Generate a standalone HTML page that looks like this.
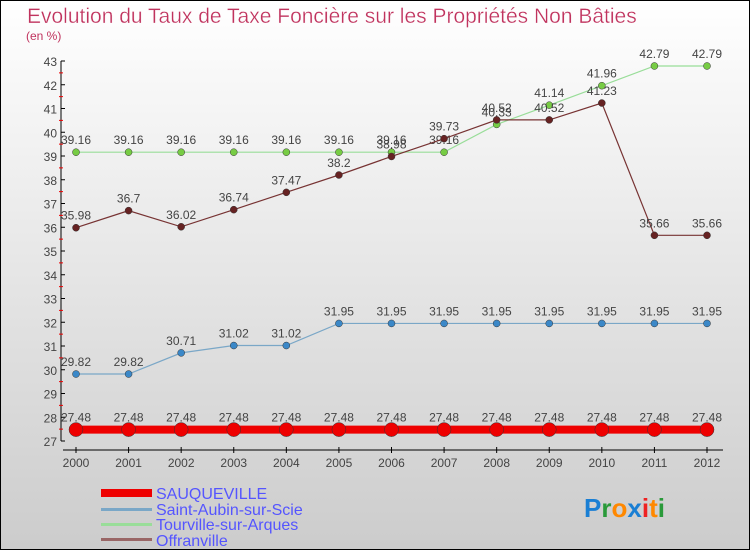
<!DOCTYPE html>
<html><head><meta charset="utf-8"><style>
body{margin:0;}
#c{position:relative;width:748px;height:548px;border:1px solid #000;background:linear-gradient(#fff,#ccc);font-family:"Liberation Sans",sans-serif;overflow:hidden}
svg text{font-family:"Liberation Sans",sans-serif}
</style></head><body>
<div id="c">
<svg width="748" height="548" id="s">
<text x="26" y="22" font-size="21" fill="#c0335e" stroke="#fff" stroke-width="0.3">Evolution du Taux de Taxe Foncière sur les Propriétés Non Bâties</text>
<text x="25" y="39" font-size="12" fill="#c0335e">(en %)</text>
<g id="axes"></g><g id="series"></g>
<g>
<rect x="100" y="488" width="51" height="8" fill="#e00"/>
<text x="155" y="498" font-size="16" fill="#55f">SAUQUEVILLE</text>
<rect x="100" y="507" width="51" height="3" fill="#7aa7c7"/>
<text x="155" y="514" font-size="16" fill="#55f">Saint-Aubin-sur-Scie</text>
<rect x="100" y="522" width="51" height="3" fill="#9d9"/>
<text x="155" y="529" font-size="16" fill="#55f">Tourville-sur-Arques</text>
<rect x="100" y="537" width="51" height="3" fill="#966"/>
<text x="155" y="545" font-size="16" fill="#55f">Offranville</text>
</g>
<text x="583" y="516" font-size="26" font-weight="bold"><tspan fill="#1a7fd4">P</tspan><tspan fill="#2a9a3a">r</tspan><tspan fill="#f80">o</tspan><tspan fill="#1a7fd4">x</tspan><tspan fill="#e22">i</tspan><tspan fill="#f80">t</tspan><tspan fill="#2a9a3a">i</tspan></text>
</svg>
</div>
<script>
const years=["2000","2001","2002","2003","2004","2005","2006","2007","2008","2009","2010","2011","2012"];
const yTicks=[27,28,29,30,31,32,33,34,35,36,37,38,39,40,41,42,43];
const sauqueville=[27.48,27.48,27.48,27.48,27.48,27.48,27.48,27.48,27.48,27.48,27.48,27.48,27.48];
const saintAubin=[29.82,29.82,30.71,31.02,31.02,31.95,31.95,31.95,31.95,31.95,31.95,31.95,31.95];
const tourville=[39.16,39.16,39.16,39.16,39.16,39.16,39.16,39.16,40.33,41.14,41.96,42.79,42.79];
const offranville=[35.98,36.7,36.02,36.74,37.47,38.2,38.98,39.73,40.52,40.52,41.23,35.66,35.66];
const NS="http://www.w3.org/2000/svg";
const X=i=>75+i*(706-75)/(years.length-1);
const Y=v=>440-(v-27)*(380/16);
function mk(t,a,p){const e=document.createElementNS(NS,t);for(const k in a)e.setAttribute(k,a[k]);p.appendChild(e);return e;}
const ax=document.getElementById('axes'),sg=document.getElementById('series');
let l=mk('line',{x1:60,y1:Y(43),x2:60,y2:Y(27),stroke:'#000'},ax);


yTicks.forEach((v,k)=>{mk('line',{x1:60,y1:Y(v),x2:64,y2:Y(v),stroke:'#000'},ax);
 if(k<yTicks.length-1)mk('line',{x1:58,y1:Y(v+0.5),x2:62,y2:Y(v+0.5),stroke:'#e00'},ax);
 const t=mk('text',{x:56,y:Y(v)+5,'text-anchor':'end','font-size':12,fill:'#444'},ax);t.textContent=v;
 
 });
l=mk('line',{x1:62,y1:449,x2:722,y2:449,stroke:'#000'},ax);


years.forEach((y,i)=>{mk('line',{x1:X(i),y1:446,x2:X(i),y2:452,stroke:'#000'},ax);
 const t=mk('text',{x:X(i),y:466,'text-anchor':'middle','font-size':12,fill:'#444'},ax);t.textContent=y;
 
 });
function series(d,col,dot,w,r,name){
 const g=mk('g',{},sg);
 
 
 mk('polyline',{points:d.map((v,i)=>X(i)+','+Y(v)).join(' '),fill:'none',stroke:col,'stroke-width':w},g);
 d.forEach((v,i)=>{const c=mk('circle',{cx:X(i),cy:Y(v),r:r,fill:dot,stroke:'#333','stroke-width':0.5},g);
  
  
  const t=mk('text',{x:X(i),y:Y(v)-8,'text-anchor':'middle','font-size':12,fill:'#444'},g);t.textContent=v;
  
  });
}
series(tourville,'#9d9','#7c4','1.2',3.5,'tourville');
series(offranville,'#733','#622','1.2',3.5,'offranville');
series(saintAubin,'#7aa7c7','#3b88c8','1.2',3.5,'saint-aubin');
series(sauqueville,'#e00','#e00','8',7,'sauqueville');
</script>
</body></html>
